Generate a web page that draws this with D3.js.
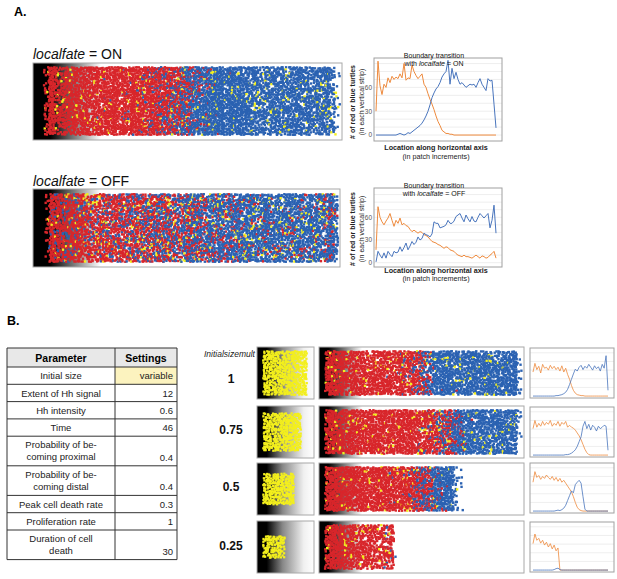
<!DOCTYPE html>
<html>
<head>
<meta charset="utf-8">
<script src="https://d3js.org/d3.v7.min.js"></script>
<style>
  body { margin: 0; background: #fff; }
  svg text { font-family: "Liberation Sans", Arial, sans-serif; }
</style>
</head>
<body>
<svg id="fig" width="617" height="579"></svg>
<script>
// ---- data ----
// panel A: red (orange line) and blue counts per vertical strip
const onRed = [30,93,62,51,64,60,72,66,74,70,73,71,77,72,90,69,72,71,88,80,75,71,74,77,64,60,52,45,39,32,24,17,12,6,4,2,2,1,1,0,0,0,0,0,0,0,0,0,0,0,0,0,0,0,0,0,0,0,0,0,0];
const onBlue = [0,0,0,0,0,0,0,0,0,0,0,1,2,1,0,1,3,2,4,6,8,10,12,15,19,24,30,38,47,53,58,61,66,73,77,80,94,64,84,71,79,70,64,66,63,60,62,64,63,64,60,66,71,64,60,56,71,68,69,39,9];
const offRed = [17,74,60,54,50,55,59,65,56,48,56,52,59,50,52,49,48,44,41,43,41,39,41,40,37,36,34,31,28,27,26,24,23,21,19,21,20,17,16,15,12,10,9,8,10,8,8,7,6,8,10,8,6,9,8,6,7,10,12,15,6];
const offBlue = [1,15,10,6,13,6,15,11,8,15,13,14,21,15,20,26,17,22,28,24,27,34,30,32,39,37,36,34,38,54,52,52,46,47,48,50,56,52,52,55,61,63,65,59,54,63,58,54,61,55,54,60,65,62,59,62,65,46,56,76,39];
const yTicksA = [0, 30, 60];

// panel B: table
const paramNames = [["Initial size"], ["Extent of Hh signal"], ["Hh intensity"], ["Time"],
  ["Probability of be-", "coming proximal"], ["Probability of be-", "coming distal"],
  ["Peak cell death rate"], ["Proliferation rate"], ["Duration of cell", "death"]];
const paramValues = ["variable", "12", "0.6", "46", "0.4", "0.4", "0.3", "1", "30"];

// panel B: runs for each initial size multiplier
const sizeMults = [1, 0.75, 0.5, 0.25];
const sizeLabels = ["1", "0.75", "0.5", "0.25"];
const bRed = [
  [50,68,55,62,48,66,58,60,54,64,57,62,55,60,52,63,50,58,45,35,22,12,6,3,2,1,1,0,0,0,0,0,0,0,0,0,0,0,0,0],
  [55,72,58,66,60,70,62,68,64,72,60,66,62,70,60,68,64,70,58,62,58,56,52,46,40,32,22,12,5,1,0,0,0,0,0,0,0,0,0,0],
  [60,82,70,74,66,72,68,75,70,66,72,64,70,62,68,60,64,58,52,46,40,30,18,8,3,1,0,0,0,0,0,0,0,0,0,0,0,0,0,0],
  [55,75,62,66,56,62,52,58,48,55,44,52,40,46,0,0,0,0,0,0,0,0,0,0,0,0,0,0,0,0,0,0,0,0,0,0,0,0,0,0]
];
const bBlue = [
  [0,0,0,0,0,0,0,0,0,0,0,0,1,1,2,3,5,8,14,24,35,46,56,52,60,64,55,62,58,66,60,54,63,57,61,52,66,58,84,12],
  [0,0,0,0,0,0,0,0,0,0,0,0,0,0,0,0,0,1,1,2,4,7,11,18,28,38,60,70,55,64,52,62,58,50,60,55,58,62,60,10],
  [0,0,0,0,0,0,0,0,0,0,0,0,1,2,1,3,6,12,22,32,42,38,55,60,64,58,30,4,0,0,0,0,0,0,0,0,0,0,0,0],
  [0,0,0,0,0,0,0,0,0,0,0,1,3,4,1,0,0,0,0,0,0,0,0,0,0,0,0,0,0,0,0,0,0,0,0,0,0,0,0,0]
];

const RED = "#d8262b", BLUE = "#2b62b2", YELLOW = "#f3ef1d";
const LINE_O = "#ee8a3d", LINE_B = "#4975bd";

const svg = d3.select("#fig");
const defs = svg.append("defs");

function addGrad(id, stops) {
  const gr = defs.append("linearGradient").attr("id", id)
    .attr("x1", 0).attr("y1", 0).attr("x2", 1).attr("y2", 0);
  gr.selectAll("stop").data(stops).join("stop")
    .attr("offset", d => d[0]).attr("stop-color", d => d[1]);
}
addGrad("gradA", [[0, "#000"], [0.055, "#000"], [0.12, "#666"], [0.22, "#fff"]]);
addGrad("gradB", [[0, "#000"], [0.045, "#000"], [0.11, "#666"], [0.21, "#fff"]]);
addGrad("gradY", [[0, "#000"], [0.17, "#000"], [0.45, "#888"], [0.82, "#f0f0f0"], [1, "#fff"]]);

// integer hash -> [0,1), used only as a dither threshold / jitter for the cell texture
function hash(a, b) {
  let h = (Math.imul(a, 374761393) + Math.imul(b, 668265263)) | 0;
  h = Math.imul(h ^ (h >>> 13), 1274126177);
  h = h ^ (h >>> 16);
  return (h >>> 0) / 4294967296;
}

function drawCells(g, o) {
  const n = o.red.length;
  const xs = d3.scaleLinear().domain([0, n]).range([o.x0, o.x1]);
  const rows = Math.max(1, Math.round((o.y1 - o.y0) / o.cell));
  const ys = d3.scaleLinear().domain([0, rows]).range([o.y0, o.y1]);
  const sub = Math.max(1, Math.round((xs(1) - xs(0)) / o.cell));
  const cells = [];
  for (let i = 0; i < n; i++) {
    const fr = o.red[i] / o.cap, fb = o.blue[i] / o.cap;
    const fy = o.fill != null ? o.fill : o.yellow * Math.min(1, (fr + fb) / 0.5);
    for (let k = 0; k < sub; k++) {
      const c = i * sub + k;
      for (let r = 0; r < rows; r++) {
        const t = hash(c + o.seed * 1000, r + o.seed * 77);
        let col = null;
        if (t < fr) col = RED;
        else if (t < fr + fb) col = BLUE;
        else if (t < fr + fb + fy) col = YELLOW;
        if (col) {
          const jx = (hash(c * 3 + 1, r + o.seed) - 0.5) * o.cell * 0.8;
          const jy = (hash(r * 5 + 2, c + o.seed) - 0.5) * o.cell * 0.8;
          cells.push({ x: xs(i + (k + 0.5) / sub) + jx, y: ys(r + 0.5) + jy, col: col });
        }
      }
    }
  }
  const sz = o.cell * 1.25;
  g.append("g").selectAll("rect").data(cells).join("rect")
    .attr("x", d => d.x - sz / 2).attr("y", d => d.y - sz / 2)
    .attr("width", sz).attr("height", sz)
    .attr("fill", d => d.col);
}

function panel(x, y, w, h, grad) {
  const g = svg.append("g");
  g.append("rect").attr("x", x).attr("y", y).attr("width", w).attr("height", h)
    .attr("fill", `url(#${grad})`);
  return g;
}
function frame(x, y, w, h) {
  svg.append("rect").attr("x", x).attr("y", y).attr("width", w).attr("height", h)
    .attr("fill", "none").attr("stroke", "#a8a8a8").attr("stroke-width", 1);
}

function lineChart(box, red, blue, yDom, gridVals, tickVals) {
  const g = svg.append("g");
  const x = d3.scaleLinear().domain([0, red.length - 1]).range([box.x + box.padL, box.x + box.w - box.padR]);
  const y = d3.scaleLinear().domain(yDom).range([box.y + box.h, box.y]);
  g.append("rect").attr("x", box.x).attr("y", box.y).attr("width", box.w).attr("height", box.h)
    .attr("fill", "#fff");
  g.selectAll("line.grid").data(gridVals).join("line").attr("class", "grid")
    .attr("x1", box.x).attr("x2", box.x + box.w)
    .attr("y1", d => y(d)).attr("y2", d => y(d))
    .attr("stroke", "#e6e6e6").attr("stroke-width", 0.7);
  const ln = d3.line().x((d, i) => x(i)).y(d => y(d));
  g.append("path").datum(red).attr("d", ln).attr("fill", "none")
    .attr("stroke", LINE_O).attr("stroke-width", box.sw);
  g.append("path").datum(blue).attr("d", ln).attr("fill", "none")
    .attr("stroke", LINE_B).attr("stroke-width", box.sw);
  g.append("rect").attr("x", box.x).attr("y", box.y).attr("width", box.w).attr("height", box.h)
    .attr("fill", "none").attr("stroke", "#a0a0a0").attr("stroke-width", 1);
  g.selectAll("text.tick").data(tickVals).join("text").attr("class", "tick")
    .attr("x", box.x - 2).attr("y", d => y(d) + 2.3)
    .attr("text-anchor", "end").attr("font-size", 6.5).attr("fill", "#555")
    .text(d => d);
  return g;
}

// ---------------- Panel A ----------------
svg.append("text").attr("x", 14).attr("y", 16).attr("font-size", 12.5)
  .attr("font-weight", "bold").text("A.");

const aRuns = [
  { label: "ON", red: onRed, blue: onBlue, tY: 59, px: 33, py: 63, pw: 309, ph: 77,
    cx0: 44, cx1: 340, cy0: 67, cy1: 135, yellow: 0.04, seed: 3,
    box: { x: 374, y: 58, w: 128, h: 83 }, yDom: [-7.5, 97], ttl: 58, xl: 150, ylc: 102 },
  { label: "OFF", red: offRed, blue: offBlue, tY: 186, px: 33, py: 189, pw: 307, ph: 78,
    cx0: 45, cx1: 338, cy0: 194, cy1: 262, yellow: 0.06, seed: 41,
    box: { x: 374, y: 188, w: 128, h: 79 }, yDom: [-5.7, 98.7], ttl: 187.5, xl: 272.5, ylc: 229 }
];

aRuns.forEach(a => {
  const t = svg.append("text").attr("x", a.px).attr("y", a.tY).attr("font-size", 14).attr("fill", "#111");
  t.append("tspan").attr("font-style", "italic").text("localfate");
  t.append("tspan").text(" = " + a.label);

  const g = panel(a.px, a.py, a.pw, a.ph, "gradA");
  drawCells(g, { red: a.red, blue: a.blue, x0: a.cx0, x1: a.cx1, y0: a.cy0, y1: a.cy1,
    cell: 1.9, cap: 90, yellow: a.yellow, seed: a.seed });
  frame(a.px, a.py, a.pw, a.ph);

  const b = Object.assign({ padL: 2, padR: 6, sw: 1 }, a.box);
  lineChart(b, a.red, a.blue, a.yDom, d3.range(0, 100, 10), yTicksA);

  const cx = 434;
  svg.append("text").attr("x", cx).attr("y", a.ttl).attr("text-anchor", "middle")
    .attr("font-size", 7).attr("fill", "#111").text("Boundary transition");
  const t2 = svg.append("text").attr("x", cx).attr("y", a.ttl + 8).attr("text-anchor", "middle")
    .attr("font-size", 7).attr("fill", "#111");
  t2.append("tspan").text("with ");
  t2.append("tspan").attr("font-style", "italic").text("localfate");
  t2.append("tspan").text(" = " + a.label);

  svg.append("text").attr("transform", `translate(355,${a.ylc}) rotate(-90)`)
    .attr("text-anchor", "middle").attr("font-size", 7).attr("font-weight", "bold")
    .attr("fill", "#222").text("# of red or blue turtles");
  svg.append("text").attr("transform", `translate(364,${a.ylc}) rotate(-90)`)
    .attr("text-anchor", "middle").attr("font-size", 7)
    .attr("fill", "#222").text("(in each vertical strip)");

  svg.append("text").attr("x", 436).attr("y", a.xl).attr("text-anchor", "middle")
    .attr("font-size", 7.2).attr("font-weight", "bold").attr("fill", "#222")
    .text("Location along horizontal axis");
  svg.append("text").attr("x", 436).attr("y", a.xl + 8.5).attr("text-anchor", "middle")
    .attr("font-size", 7.2).attr("fill", "#222").text("(in patch increments)");
});

// ---------------- Panel B ----------------
svg.append("text").attr("x", 7).attr("y", 325).attr("font-size", 12.5)
  .attr("font-weight", "bold").text("B.");

// table
const tbl = svg.append("g");
const tL = 7, tM = 115, tR = 177, tTop = 348, hdrH = 19, oneH = 17.3, twoH = 29.6;
let yy = tTop;
tbl.append("rect").attr("x", tL).attr("y", yy).attr("width", tR - tL).attr("height", hdrH)
  .attr("fill", "#e8e8e8");
tbl.append("text").attr("x", (tL + tM) / 2).attr("y", yy + 13.5).attr("text-anchor", "middle")
  .attr("font-size", 10.5).attr("font-weight", "bold").text("Parameter");
tbl.append("text").attr("x", (tM + tR) / 2).attr("y", yy + 13.5).attr("text-anchor", "middle")
  .attr("font-size", 10.5).attr("font-weight", "bold").text("Settings");
const rowYs = [yy];
yy += hdrH;
paramNames.forEach((nm, i) => {
  const h = nm.length > 1 ? twoH : oneH;
  if (i === 0) {
    tbl.append("rect").attr("x", tM).attr("y", yy).attr("width", tR - tM).attr("height", h)
      .attr("fill", "#fcf3bf");
  }
  nm.forEach((s, j) => {
    const by = nm.length > 1 ? yy + 12 + j * 12 : yy + 12.2;
    tbl.append("text").attr("x", (tL + tM) / 2).attr("y", by).attr("text-anchor", "middle")
      .attr("font-size", 9.5).attr("fill", "#222").text(s);
  });
  tbl.append("text").attr("x", tR - 4).attr("y", yy + h - 5)
    .attr("text-anchor", "end").attr("font-size", 9.5).attr("fill", "#222").text(paramValues[i]);
  rowYs.push(yy);
  yy += h;
});
rowYs.push(yy);
tbl.selectAll("line.h").data(rowYs).join("line").attr("class", "h")
  .attr("x1", tL).attr("x2", tR).attr("y1", d => d).attr("y2", d => d)
  .attr("stroke", "#333").attr("stroke-width", 1);
tbl.selectAll("line.v").data([tL, tM, tR]).join("line").attr("class", "v")
  .attr("x1", d => d).attr("x2", d => d).attr("y1", tTop).attr("y2", yy)
  .attr("stroke", "#333").attr("stroke-width", 1);

svg.append("text").attr("x", 255).attr("y", 357).attr("text-anchor", "end")
  .attr("font-size", 8.5).attr("font-style", "italic").attr("fill", "#222").text("Initialsizemult");

const rowTops = [347, 406, 463, 521], rowH = 52;
const labelY = [383, 434, 490.5, 550];
const side = d3.scaleSqrt().domain([0, 1]).range([0, 44]);
const smallBoxTops = [348, 407, 463, 522];

sizeMults.forEach((m, i) => {
  const top = rowTops[i];
  svg.append("text").attr("x", 231).attr("y", labelY[i]).attr("text-anchor", "middle")
    .attr("font-size", 12).attr("font-weight", "bold").attr("fill", "#111").text(sizeLabels[i]);

  // initial yellow field
  const gy = panel(257, top, 57, rowH, "gradY");
  const s = side(m);
  const yc = top + rowH / 2;
  drawCells(gy, { red: [0], blue: [0], x0: 263, x1: 263 + s, y0: yc - s / 2, y1: yc + s / 2,
    cell: 1.8, cap: 1, fill: 0.84, seed: 7 + i * 13 });
  frame(257, top, 57, rowH);

  // final state
  const gb = panel(319, top, 205, rowH, "gradB");
  drawCells(gb, { red: bRed[i], blue: bBlue[i], x0: 325, x1: 522, y0: top + 4, y1: top + rowH - 4,
    cell: 1.9, cap: 76, yellow: 0.04, seed: 19 + i * 29 });
  frame(319, top, 205, rowH);

  // boundary plot
  lineChart({ x: 530, y: smallBoxTops[i], w: 84, h: 50, padL: 3, padR: 6, sw: 0.8 },
    bRed[i], bBlue[i], [-4, 100], [18, 36, 54, 72, 90], []);
});
</script>
</body>
</html>
